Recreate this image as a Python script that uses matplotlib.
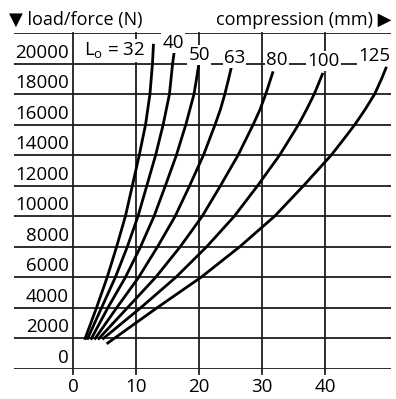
import matplotlib
matplotlib.use('Agg')
import matplotlib.pyplot as plt

plt.rcParams['font.family'] = ['Open Sans', 'DejaVu Sans']

# free length L0 (mm) of each spring
lengths = [32, 40, 50, 63, 80, 100, 125]

# load (N) and compression (mm), one pair per curve
load_32 = [2000, 4000, 6000, 8000, 10000, 12000, 14000, 16000, 18000, 20000, 21200]
comp_32 = [1.9, 3.7, 5.4, 6.9, 8.3, 9.4, 10.5, 11.5, 12.2, 12.6, 12.75]
load_40 = [2000, 4000, 6000, 8000, 10000, 12000, 14000, 16000, 18000, 20000, 20600]
comp_40 = [2.3, 4.5, 6.7, 8.6, 10.3, 11.7, 13.1, 14.3, 15.3, 15.8, 16.0]
load_50 = [2000, 4000, 6000, 8000, 10000, 12000, 14000, 16000, 18000, 19000, 19800]
comp_50 = [2.9, 5.5, 8.3, 10.7, 12.85, 14.65, 16.4, 17.9, 19.2, 19.6, 19.9]
load_63 = [2000, 4000, 6000, 8000, 10000, 12000, 14000, 16000, 17000, 18000, 19000, 19700]
comp_63 = [3.5, 6.9, 10.4, 13.4, 16.2, 18.5, 20.7, 22.55, 23.4, 24.1, 24.7, 25.1]
load_80 = [2000, 4000, 6000, 8000, 10000, 12000, 14000, 16000, 17000, 18000, 19400]
comp_80 = [4.1, 8.6, 13.1, 17.0, 20.5, 23.4, 26.2, 28.6, 29.7, 30.6, 31.7]
load_100 = [2000, 4000, 6000, 8000, 10000, 12000, 14000, 16000, 17000, 18000, 19300]
comp_100 = [4.8, 10.7, 16.3, 21.2, 25.6, 29.3, 32.8, 35.8, 37.1, 38.3, 39.6]
load_125 = [1700, 4000, 6000, 8000, 10000, 12000, 14000, 15000, 16000, 17000, 18000, 19000, 19700]
comp_125 = [5.5, 13.3, 20.3, 26.45, 32.0, 36.6, 41.0, 42.9, 44.75, 46.4, 47.9, 49.0, 49.7]

loads = [load_32, load_40, load_50, load_63, load_80, load_100, load_125]
comps = [comp_32, comp_40, comp_50, comp_63, comp_80, comp_100, comp_125]

x_ticks = [0, 10, 20, 30, 40]
y_ticks = [0, 2000, 4000, 6000, 8000, 10000, 12000, 14000, 16000, 18000, 20000]
y_top = 22000

fig = plt.figure(figsize=(3.96, 3.99), dpi=100)
ax = fig.add_axes([14/396, 30/399, 377/396, 336/399])
ax.set_xlim(-9.4, 50.5)
ax.set_ylim(0, y_top)
ax.axis('off')

gc = '#1e1e1e'
for y in y_ticks + [y_top]:
    ax.axhline(y, color=gc, lw=1.3, zorder=1)
for x in x_ticks:
    ax.plot([x, x], [-350, y_top], color=gc, lw=1.3, zorder=1, clip_on=False)
    ax.text(x, -1150, str(x), ha='center', va='center', fontsize=13.5)
for y in y_ticks:
    ax.text(-0.7, y + 720, str(y), ha='right', va='center', fontsize=13.5)

for c, ld in zip(comps, loads):
    ax.plot(c, ld, color='black', lw=2.0, zorder=3, solid_joinstyle='round')

box = dict(facecolor='white', edgecolor='none', pad=0.8)
# curve labels (x, y in data units)
lab_pos = [(11.5, 20850), (15.9, 21350), (20.0, 20560), (25.6, 20370),
           (32.4, 20240), (39.8, 20170), (47.8, 20500)]
for i, (L, (px, py)) in enumerate(zip(lengths, lab_pos)):
    if i == 0:
        ax.text(px, py, r'L$_\mathregular{o}$ = ' + str(L), ha='right', va='center',
                fontsize=13.5, bbox=box, zorder=4)
    else:
        ax.text(px, py, str(L), ha='center', va='center', fontsize=13.5,
                bbox=box, zorder=4)

fig.text(9/396, 1 - 20/399, '▼ load/force (N)', ha='left', va='center', fontsize=13)
fig.text(392/396, 1 - 20/399, 'compression (mm) ▶', ha='right', va='center', fontsize=13)

plt.savefig('out.png', dpi=100)
